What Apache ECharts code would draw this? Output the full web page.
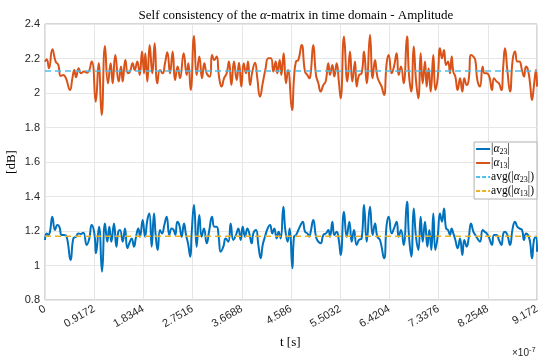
<!DOCTYPE html>
<html>
<head>
<meta charset="utf-8">
<script src="https://cdn.jsdelivr.net/npm/echarts@6/dist/echarts.min.js"></script>
<style>html,body{margin:0;padding:0;background:#fff}#c{width:550px;height:363px}</style>
</head>
<body>
<div id="c"></div>
<script>
// time in units of 1e-7 s
const xTicks = [0, 0.9172, 1.8344, 2.7516, 3.6688, 4.586, 5.5032, 6.4204, 7.3376, 8.2548, 9.172];
const yTicks = [0.8, 1, 1.2, 1.4, 1.6, 1.8, 2, 2.2, 2.4];

const tA23 = [0.000,0.031,0.062,0.093,0.137,0.187,0.230,0.267,0.311,0.354,0.404,0.478,0.528,0.578,0.621,0.665,0.715,0.777,0.826,0.870,0.920,0.951,1.007,1.063,1.118,1.162,1.199,1.237,1.286,1.330,1.367,1.398,1.448,1.491,1.535,1.572,1.616,1.659,1.697,1.740,1.771,1.821,1.864,1.908,1.945,1.989,2.032,2.063,2.100,2.144,2.181,2.225,2.268,2.318,2.361,2.399,2.430,2.467,2.504,2.548,2.591,2.629,2.666,2.709,2.734,2.778,2.827,2.877,2.920,2.964,3.014,3.063,3.113,3.157,3.200,3.238,3.275,3.325,3.368,3.418,3.461,3.511,3.561,3.604,3.648,3.685,3.729,3.772,3.809,3.853,3.884,3.934,3.977,4.021,4.058,4.101,4.151,4.195,4.238,4.275,4.319,4.356,4.393,4.443,4.480,4.524,4.561,4.611,4.642,4.679,4.723,4.766,4.804,4.847,4.891,4.928,4.953,5.002,5.052,5.096,5.139,5.189,5.239,5.282,5.313,5.357,5.394,5.437,5.481,5.512,5.574,5.624,5.674,5.717,5.761,5.810,5.854,5.903,5.947,5.997,6.059,6.108,6.152,6.195,6.245,6.320,6.369,6.407,6.463,6.506,6.556,6.593,6.637,6.686,6.748,6.786,6.829,6.873,6.916,6.960,7.003,7.041,7.084,7.128,7.165,7.202,7.239,7.277,7.320,7.364,7.401,7.438,7.476,7.513,7.550,7.581,7.612,7.650,7.693,7.737,7.780,7.817,7.861,7.898,7.942,7.985,8.022,8.060,8.109,8.159,8.196,8.234,8.283,8.333,8.370,8.420,8.463,8.507,8.544,8.575,8.619,8.669,8.718,8.762,8.805,8.843,8.892,8.930,8.967,9.004,9.042,9.079,9.116,9.153,9.172];
const vA23 = [1.148,1.186,1.177,1.196,1.283,1.206,1.235,1.225,1.177,1.177,1.167,1.032,1.157,1.167,1.186,1.183,1.190,1.119,1.157,1.235,1.186,1.071,1.225,0.964,1.244,1.138,1.225,1.138,1.244,1.109,1.196,1.206,1.138,1.215,1.100,1.129,1.157,1.109,1.167,1.215,1.167,1.264,1.167,1.264,1.302,1.109,1.302,1.177,1.090,1.206,1.186,1.235,1.283,1.177,1.215,1.206,1.177,1.254,1.235,1.167,1.244,1.177,1.129,1.051,1.186,1.351,1.109,1.293,1.167,1.215,1.129,1.206,1.283,1.225,1.225,1.167,1.080,1.109,1.157,1.138,1.244,1.148,1.177,1.215,1.148,1.225,1.167,1.215,1.186,1.129,1.186,1.206,1.119,1.042,1.119,1.167,1.215,1.235,1.186,1.215,1.157,1.196,1.157,1.341,1.206,1.138,1.215,0.984,1.167,1.177,1.206,1.235,1.254,1.196,1.186,1.167,1.196,1.264,1.167,1.138,1.129,1.177,1.186,1.206,1.167,1.254,1.177,1.196,1.138,1.061,1.312,1.167,1.254,1.138,1.206,1.119,1.148,1.157,1.351,1.138,1.341,1.177,1.244,1.167,1.148,1.042,1.235,1.283,1.186,1.215,1.254,1.167,1.206,1.119,1.370,1.167,1.051,1.331,1.167,1.090,1.283,1.138,1.254,1.109,1.206,1.090,1.302,1.090,1.167,1.302,1.254,1.331,1.215,1.206,1.177,1.215,1.186,1.148,1.100,1.157,1.061,1.148,1.109,1.157,1.244,1.196,1.177,1.157,1.138,1.206,1.196,1.186,1.157,1.119,1.177,1.177,1.148,1.119,1.186,1.196,1.177,1.119,1.215,1.254,1.225,1.215,1.206,1.148,1.186,1.177,1.138,1.042,1.148,1.167,1.080];

const tA13 = [0.000,0.031,0.075,0.137,0.199,0.249,0.292,0.342,0.391,0.466,0.510,0.547,0.578,0.628,0.671,0.727,0.789,0.870,0.945,1.000,1.056,1.118,1.174,1.224,1.261,1.311,1.373,1.417,1.448,1.498,1.547,1.585,1.634,1.672,1.721,1.765,1.808,1.846,1.870,1.908,1.951,2.001,2.044,2.094,2.144,2.194,2.237,2.281,2.330,2.380,2.424,2.473,2.517,2.585,2.641,2.672,2.716,2.778,2.827,2.877,2.927,2.970,3.014,3.076,3.113,3.157,3.200,3.244,3.293,3.337,3.387,3.430,3.474,3.523,3.573,3.617,3.660,3.704,3.747,3.784,3.822,3.865,3.915,3.958,4.008,4.058,4.107,4.163,4.213,4.257,4.300,4.331,4.375,4.406,4.449,4.493,4.530,4.605,4.642,4.679,4.723,4.785,4.847,4.891,4.928,4.953,5.002,5.052,5.096,5.139,5.189,5.232,5.282,5.313,5.357,5.394,5.437,5.481,5.512,5.574,5.636,5.686,5.729,5.779,5.810,5.854,5.903,5.947,5.997,6.059,6.108,6.152,6.195,6.245,6.276,6.320,6.369,6.407,6.463,6.506,6.556,6.593,6.637,6.686,6.748,6.786,6.829,6.873,6.916,6.960,7.003,7.041,7.084,7.115,7.152,7.190,7.239,7.277,7.320,7.364,7.401,7.438,7.476,7.513,7.550,7.581,7.612,7.650,7.693,7.737,7.780,7.817,7.861,7.898,7.942,7.985,8.022,8.060,8.109,8.159,8.196,8.234,8.283,8.333,8.370,8.420,8.463,8.507,8.544,8.575,8.619,8.669,8.718,8.762,8.805,8.843,8.892,8.930,8.967,9.004,9.042,9.079,9.116,9.153,9.172];
const vA13 = [2.182,2.195,2.143,2.253,2.182,2.162,2.099,2.104,2.085,2.017,2.085,2.133,2.091,2.143,2.114,2.124,2.118,2.182,1.950,2.172,1.872,2.272,2.056,2.172,2.056,2.220,2.066,2.153,2.066,2.191,2.114,2.124,2.172,2.133,2.182,2.104,2.240,2.114,2.230,2.066,2.278,2.114,2.288,2.056,2.133,2.114,2.172,2.236,2.114,2.240,2.075,2.153,2.085,2.230,2.104,2.172,2.017,2.330,2.104,2.211,2.085,2.172,2.114,2.095,2.220,2.191,2.211,2.095,2.037,2.085,2.114,2.182,2.046,2.182,2.075,2.176,2.037,2.172,2.114,2.182,2.046,2.124,2.176,2.085,1.979,2.056,2.133,2.201,2.201,2.124,2.182,2.114,2.191,2.104,2.230,2.056,2.133,1.901,2.085,2.182,2.191,2.278,2.124,2.104,2.085,2.114,2.278,2.104,2.056,2.008,2.046,2.066,2.172,2.104,2.162,2.095,2.172,2.056,1.969,2.327,2.066,2.240,2.066,2.182,2.037,2.104,2.114,2.240,2.056,2.336,2.085,2.191,2.095,2.056,2.037,1.988,2.172,2.220,2.114,2.153,2.230,2.104,2.153,2.056,2.327,2.104,2.008,2.269,2.075,1.969,2.230,2.056,2.182,2.037,2.143,2.008,2.220,2.017,2.085,2.259,2.201,2.249,2.162,2.182,2.114,2.211,2.124,2.095,2.017,2.085,2.008,2.085,2.046,2.075,2.220,2.211,2.191,2.075,2.037,2.153,2.114,2.114,2.095,2.017,2.085,2.066,2.056,2.017,2.162,2.259,2.133,2.008,2.191,2.240,2.182,2.182,2.133,2.095,2.153,2.133,2.056,1.959,2.046,2.133,2.037];

const avgA23 = 2.127;   // light-blue dashed (as labelled in the reference)
const avgA13 = 1.169;   // yellow dashed

const names = ['|α23|', '|α13|', 'avg(|α23|)', 'avg(|α13|)'];
const colors = ['#0072BD', '#D95319', '#4DBEEE', '#EDB120'];

const pairs = (t, v) => t.map((x, i) => [x, v[i]]);
const serif = 'Liberation Serif, DejaVu Serif, serif';
const sans = 'Liberation Sans, Arial, sans-serif';

const solidIcon = 'path://M0,0h14v2h-14z';
const dashIcon = 'path://M0,0h4v2h-4z M6,0h4v2h-4z M12,0h2v2h-2z';

const chart = echarts.init(document.getElementById('c'), null, {renderer: 'canvas'});
const legendRich = {
  m: {fontFamily: serif, fontSize: 11.5, color: '#000'},
  i: {fontFamily: serif, fontSize: 11.5, fontStyle: 'italic', color: '#000'},
  s: {fontFamily: serif, fontSize: 8, color: '#000', padding: [6, 0, 0, 0]}
};
const legendFmt = {
  '|α23|': '{m||}{i|α}{s|23}{m||}',
  '|α13|': '{m||}{i|α}{s|13}{m||}',
  'avg(|α23|)': '{m|avg(|}{i|α}{s|23}{m||)}',
  'avg(|α13|)': '{m|avg(|}{i|α}{s|13}{m||)}'
};

chart.setOption({
  animation: false,
  backgroundColor: '#fff',
  title: {
    text: 'Self consistency of the {i|α}-matrix in time domain - Amplitude',
    left: 291, top: 4, textAlign: 'center',
    textStyle: {fontFamily: serif, fontSize: 13, fontWeight: 'normal', color: '#000',
      rich: {i: {fontFamily: serif, fontSize: 13, fontStyle: 'italic', color: '#000'}}}
  },
  grid: {left: 45, right: 13, top: 24, bottom: 63, show: true, borderColor: '#b0b0b0', borderWidth: 1, backgroundColor: 'transparent'},
  legend: {
    data: names.map((n, i) => ({name: n, icon: i < 2 ? solidIcon : dashIcon})),
    orient: 'vertical', right: 13, top: 142,
    backgroundColor: '#fff', borderColor: '#b0b0b0', borderWidth: 1,
    padding: [1, 3, 1, 2], itemGap: 1, itemWidth: 14, itemHeight: 2,
    textStyle: {rich: legendRich, padding: [0, 0, 0, -4]},
    formatter: n => legendFmt[n]
  },
  xAxis: {
    type: 'value', min: 0, max: xTicks[xTicks.length - 1], interval: xTicks[1],
    axisLine: {show: false}, axisTick: {show: false},
    splitLine: {show: true, lineStyle: {color: '#e6e6e6', width: 1}},
    axisLabel: {rotate: 30, fontFamily: sans, fontSize: 11, color: '#262626', margin: 8,
      showMaxLabel: true, showMinLabel: true,
      formatter: v => {const k = Math.round(v / xTicks[1]); return String(xTicks[k] !== undefined ? xTicks[k] : v);}}
  },
  yAxis: {
    type: 'value', min: yTicks[0], max: yTicks[yTicks.length - 1], interval: 0.2,
    axisLine: {show: false}, axisTick: {show: false},
    splitLine: {show: true, lineStyle: {color: '#e6e6e6', width: 1}},
    axisLabel: {fontFamily: sans, fontSize: 11, color: '#262626', margin: 5,
      formatter: v => String(parseFloat(v.toFixed(1)))}
  },
  series: [
    {name: names[0], type: 'line', data: pairs(tA23, vA23), smooth: 0.5, symbol: 'none',
      lineStyle: {color: colors[0], width: 2}, itemStyle: {color: colors[0]}},
    {name: names[1], type: 'line', data: pairs(tA13, vA13), smooth: 0.5, symbol: 'none',
      lineStyle: {color: colors[1], width: 2}, itemStyle: {color: colors[1]}},
    {name: names[2], type: 'line', data: [[0, avgA23], [xTicks[xTicks.length - 1], avgA23]], symbol: 'none',
      lineStyle: {color: colors[2], width: 1.5, type: [6, 4]}, itemStyle: {color: colors[2]}},
    {name: names[3], type: 'line', data: [[0, avgA13], [xTicks[xTicks.length - 1], avgA13]], symbol: 'none',
      lineStyle: {color: colors[3], width: 1.5, type: [6, 4]}, itemStyle: {color: colors[3]}}
  ],
  graphic: [
    {type: 'text', left: 280, top: 336, style: {text: 't [s]', font: '13px ' + serif, fill: '#000'}},
    {type: 'text', x: 12, y: 162, rotation: Math.PI / 2, style: {text: '[dB]', font: '13px ' + serif, fill: '#000', align: 'center', verticalAlign: 'middle'}},
    {type: 'text', x: 512, y: 346, style: {text: '×10{s|-7}', fill: '#262626',
      font: '10px ' + sans, rich: {s: {fontSize: 7.5, fontFamily: sans, fill: '#262626', padding: [0, 0, 7, 0]}}}}
  ]
});
</script>
</body>
</html>
